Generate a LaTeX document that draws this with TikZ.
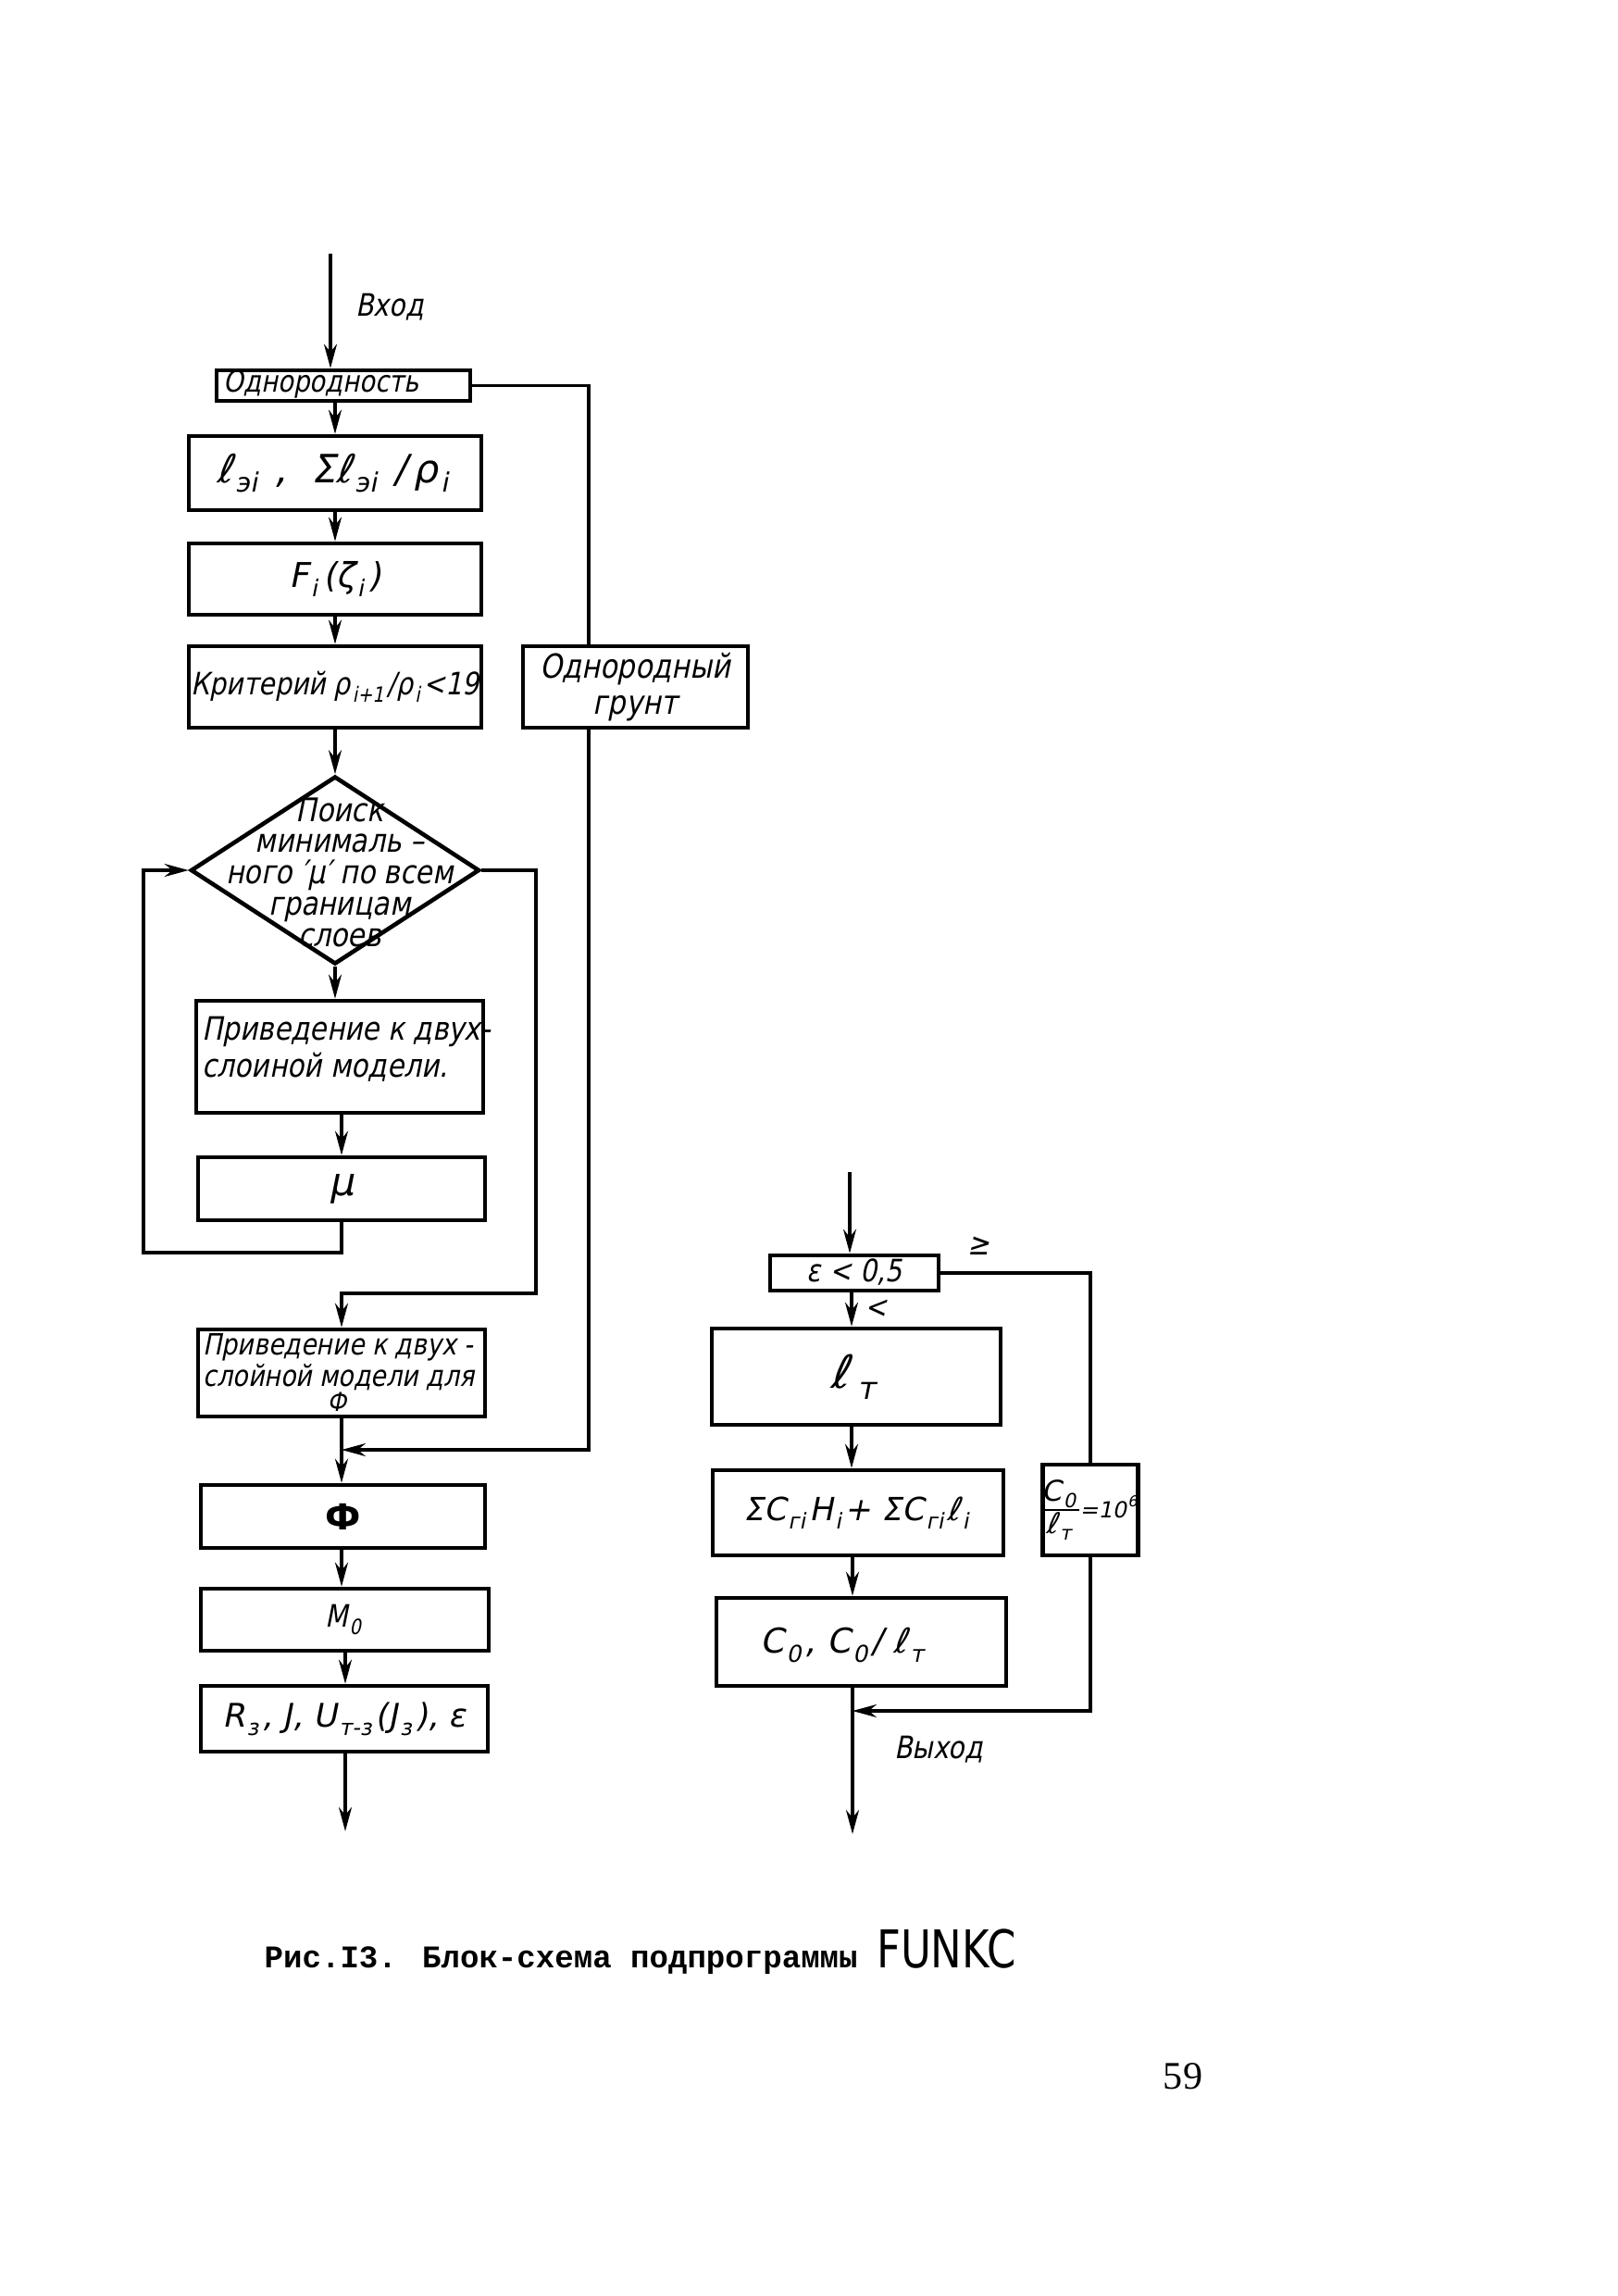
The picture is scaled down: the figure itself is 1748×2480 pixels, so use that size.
\documentclass[tikz,border=0pt]{standalone}
\usepackage{fontspec}
\setmainfont{DejaVu Sans}
\newfontfamily\dr{DejaVu Sans}[FakeSlant=0.2,FakeStretch=0.85]
\newfontfamily\drw{DejaVu Sans}[FakeSlant=0.2]
\newfontfamily\capf{Liberation Mono}
\newfontfamily\fkf{DejaVu Sans}[FakeStretch=0.8]
\newfontfamily\pnf{Liberation Serif}
\usetikzlibrary{arrows.meta,shapes.geometric}
\makeatletter
\newcommand{\lo}[1]{\kern0.06em\raisebox{-0.45ex}{\fontsize{\strip@pt\dimexpr0.68\dimexpr\f@size pt\relax\relax}{1}\selectfont #1}\kern0.12em}
\newcommand{\hi}[1]{\kern0.06em\raisebox{0.9ex}{\fontsize{\strip@pt\dimexpr0.68\dimexpr\f@size pt\relax\relax}{1}\selectfont #1}}
\makeatother
\tikzset{
  box/.style={draw, line width=1.3pt, inner sep=0pt, font=\dr\fontsize{9.5}{11}\selectfont},
  arr/.style={line width=0.9pt, -{Stealth[length=2.6mm,width=1.4mm]}},
  ln/.style={line width=0.9pt},
  lbl/.style={inner sep=0pt, font=\dr\fontsize{9.5}{11}\selectfont},
}
\begin{document}
\begin{tikzpicture}[x=0.1mm,y=-0.1mm]
\useasboundingbox (0,0) rectangle (1748,2480);
% axes
\coordinate (ax1) at (362,0);
\coordinate (ax3) at (369,0);
\coordinate (ax2) at (920,0);
\coordinate (gl) at (636,0);
\coordinate (rl) at (579,0);
\coordinate (lx) at (155,0);
% left column
\node[box, minimum width=27.4mm, minimum height=3.3mm] (b1) at (371,416.5) {};
\node[lbl, anchor=west, font=\dr\fontsize{9.2}{10}\selectfont] (b1t) at (241,415) {Однородность};
\node[box, minimum width=31.6mm, minimum height=8.0mm, font=\drw\fontsize{12}{13}\selectfont] (b2) at (362,511) {ℓ\lo{эi}\ ,\ \ Σℓ\lo{эi}\ /\,ρ\lo{i}};
\node[box, minimum width=31.6mm, minimum height=7.7mm, font=\drw\fontsize{10.5}{12}\selectfont] (b3) at (362,625.5) {F\lo{i}\kern0.05em(ζ\lo{i})};
\node[box, minimum width=31.6mm, minimum height=8.8mm] (b4) at (362,742) {Критерий ρ\lo{i+1}/ρ\lo{i}<19};
\node[box, minimum width=24.3mm, minimum height=8.8mm, align=center, font=\dr\fontsize{10.2}{11}\selectfont] (g) at (686.5,742) {Однородный\\грунт};
\node[draw, diamond, line width=1.3pt, minimum width=31.2mm, minimum height=20.3mm, inner sep=0pt] (d) at (362,940) {};
\node[lbl, align=center, font=\dr\fontsize{10}{9.6}\selectfont] (dt) at (367,942) {Поиск\\минималь –\\ного ′μ′ по всем\\границам\\слоев};
\node[box, minimum width=31.0mm, minimum height=12.1mm] (p1) at (367,1141.5) {};
\node[lbl, align=left, anchor=north west, font=\dr\fontsize{9.9}{11.5}\selectfont] (p1t) at (218,1097) {Приведение к двух-\\слоиной модели.};
\node[box, minimum width=31.0mm, minimum height=6.8mm, font=\drw\fontsize{12}{13}\selectfont] (mu) at (369,1284) {μ};
\node[box, minimum width=31.0mm, minimum height=9.4mm] (p2) at (369,1483) {};
\node[lbl, align=left, anchor=north west, font=\dr\fontsize{9}{9.6}\selectfont] (p2t) at (219,1440) {Приведение к двух -\\слойной модели для};
\node[lbl, font=\dr\fontsize{8}{9}\selectfont] (p2f) at (364,1514) {Ф};
\node[box, minimum width=30.7mm, minimum height=6.8mm, font=\fontsize{11}{12}\selectfont\bfseries] (phi) at (370.5,1638) {Ф};
\node[box, minimum width=31.1mm, minimum height=6.7mm] (m0) at (372.5,1749.5) {M\lo{0}};
\node[box, minimum width=31.0mm, minimum height=7.1mm, font=\drw\fontsize{10}{11}\selectfont] (r3) at (372,1856.5) {R\lo{з}, J, U\lo{т-з}(J\lo{з}), ε};
\coordinate (in1) at (357,274);
\coordinate (out1) at (373,1978);
\coordinate (j1) at (369,1566);
\coordinate (jr) at (369,1397);
\coordinate (lb) at (369,1353);
\node[lbl] (vh) at (421,332) {Вход};
% connectors left
\draw[arr] (in1) -- (in1 |- b1.north);
\draw[arr] (b1.south -| ax1) -- (b2.north -| ax1);
\draw[arr] (b2) -- (b3);
\draw[arr] (b3) -- (b4);
\draw[arr] (b4) -- (d);
\draw[ln] (b1.east) -- (b1.east -| gl) -- (g.north -| gl);
\draw[arr] (g.south -| gl) -- (gl |- j1) -- (j1);
\draw[arr] (d.south) -- (d.south |- p1.north);
\draw[arr] (p1.south -| ax3) -- (mu.north -| ax3);
\draw[arr] (mu.south -| ax3) -- (lb) -- (lx |- lb) -- (lx |- d.west) -- (d.west);
\draw[arr] (d.east) -- (d.east -| rl) -- (rl |- jr) -- (jr) -- (p2.north -| jr);
\draw[arr] (p2.south -| ax3) -- (phi.north -| ax3);
\draw[arr] (phi.south -| ax3) -- (m0.north -| ax3);
\draw[arr] (m0.south -| out1) -- (r3.north -| out1);
\draw[arr] (r3.south -| out1) -- (out1);
% right column
\node[box, minimum width=18.2mm, minimum height=3.8mm, text height=2.4mm, text depth=0.6mm] (e) at (923,1375) {ε < 0,5};
\node[box, minimum width=31.2mm, minimum height=10.4mm, font=\drw\fontsize{14}{15}\selectfont] (et) at (925,1487) {ℓ\kern0.12em\lo{т}};
\node[box, minimum width=31.4mm, minimum height=9.2mm, font=\drw\fontsize{9.8}{11}\selectfont] (s) at (927,1634) {ΣC\lo{гi}H\lo{i} + ΣC\lo{гi}ℓ\lo{i}};
\node[box, minimum width=31.3mm, minimum height=9.5mm] (c0) at (930.5,1773.5) {};
\node[lbl, font=\drw\fontsize{10.5}{12}\selectfont] (c0t) at (912,1777) {C\lo{0}, C\lo{0} / ℓ\lo{т}};
\node[box, minimum width=10.3mm, minimum height=9.8mm] (c) at (1178,1631) {};
\node[lbl, font=\drw\fontsize{8.8}{10}\selectfont] (ct) at (1175,1631) {${\hbox{C\lo{0}}\over\hbox{ℓ\lo{т}}}$\hbox{\fontsize{6.8}{8}\selectfont\kern-0.15em=10\hi{6}}};
\coordinate (in2) at (918,1266);
\coordinate (out2) at (921,1981);
\coordinate (j2) at (921,1848);
\node[lbl] (ge) at (1057,1346) {≥};
\node[lbl] (lt) at (946,1414) {<};
\node[lbl] (vy) at (1014,1890) {Выход};
\draw[arr] (in2) -- (in2 |- e.north);
\draw[arr] (e.south -| ax2) -- (et.north -| ax2);
\draw[arr] (et.south -| ax2) -- (s.north -| ax2);
\draw[arr] (s.south -| out2) -- (c0.north -| out2);
\draw[arr] (c0.south -| out2) -- (out2);
\draw[ln] (e.east) -| (c.north);
\draw[arr] (c.south) -- (c.south |- j2) -- (j2);
% caption
\node[anchor=base west, inner sep=0pt] (cap) at (285,2125) {\capf\bfseries\fontsize{9.7}{11}\selectfont Рис.I3. Блок-схема подпрограммы \fkf\mdseries\fontsize{16}{18}\selectfont FUNKC};
\node[inner sep=0pt] (pg) at (1278,2243) {\pnf\fontsize{12}{14}\selectfont 59};
\end{tikzpicture}
\end{document}
